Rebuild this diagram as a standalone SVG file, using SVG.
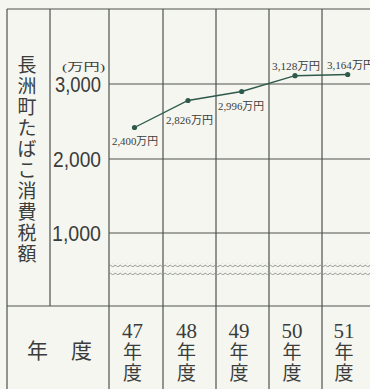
<svg xmlns="http://www.w3.org/2000/svg" width="370" height="389" viewBox="0 0 370 389">
<defs>
<style>
.grid{stroke:#4d534f;stroke-width:1.2;fill:none}
.data{stroke:#2e5a4c;stroke-width:1.4;fill:none}
.pt{fill:#2e5a4c}
.jp{font-family:"Noto Sans CJK JP",sans-serif;fill:#3a3d3b}
.ax{font-family:"Liberation Sans",sans-serif;font-size:22px;fill:#3a3d3b}
.yr{font-family:"Liberation Serif",serif;font-size:21px;fill:#3a3d3b;text-anchor:middle}
.yc{font-family:"Noto Sans CJK JP",sans-serif;font-size:19px;fill:#3a3d3b;text-anchor:middle}
.lbl{font-family:"Liberation Serif","Noto Sans CJK JP",serif;font-size:11px;fill:#3a3d3b}
</style>
<pattern id="wave" width="5" height="4" patternUnits="userSpaceOnUse" x="109" y="0">
<path d="M0 2 Q1.25 0.4 2.5 2 T5 2" stroke="#858985" stroke-width="0.9" fill="none"/>
</pattern>
</defs>
<rect width="370" height="389" fill="#f6f6f1"/>
<g id="grid">
<path class="grid" d="M7 9H370M7 9V389M50 9V306M7 306H370M109 9V389M163 9V389M216 9V389M269 9V389M322 9V389M109 84H370M109 159H370M109 233H370"/>
<rect x="109" y="263" width="261" height="4" fill="url(#wave)"/>
<rect x="109" y="271" width="261" height="4" fill="url(#wave)"/>
</g>
<g id="title" class="jp" font-size="19" text-anchor="middle">
<text x="27" y="72">長</text>
<text x="27" y="93">洲</text>
<text x="27" y="114">町</text>
<text x="27" y="135">た</text>
<text x="27" y="156">ば</text>
<text x="27" y="177">こ</text>
<text x="27" y="198">消</text>
<text x="27" y="219">費</text>
<text x="27" y="240">税</text>
<text x="27" y="261">額</text>
</g>
<g id="axis">
<text x="62" y="70.5" class="lbl" font-size="10" textLength="43" lengthAdjust="spacingAndGlyphs">(万円)</text>
<text x="55" y="92" class="ax" textLength="46" lengthAdjust="spacingAndGlyphs">3,000</text>
<text x="53" y="167" class="ax" textLength="48" lengthAdjust="spacingAndGlyphs">2,000</text>
<text x="52" y="241" class="ax" textLength="49" lengthAdjust="spacingAndGlyphs">1,000</text>
</g>
<g id="connectors">
<polyline class="data" points="134.5,127.5 188,100.5 241.7,91.5 295,75.7 347.7,74.5"/>
</g>
<g id="points">
<circle class="pt" cx="134.5" cy="127.5" r="2.6"/>
<circle class="pt" cx="188" cy="100.5" r="2.6"/>
<circle class="pt" cx="241.7" cy="91.5" r="2.6"/>
<circle class="pt" cx="295" cy="75.7" r="2.6"/>
<circle class="pt" cx="347.7" cy="74.5" r="2.6"/>
</g>
<g id="labels">
<text class="lbl" x="112" y="145" textLength="46" lengthAdjust="spacingAndGlyphs">2,400万円</text>
<text class="lbl" x="166" y="124" textLength="47" lengthAdjust="spacingAndGlyphs">2,826万円</text>
<text class="lbl" x="218" y="110" textLength="46" lengthAdjust="spacingAndGlyphs">2,996万円</text>
<text class="lbl" x="272" y="70" textLength="48" lengthAdjust="spacingAndGlyphs">3,128万円</text>
<text class="lbl" x="327" y="69" textLength="47" lengthAdjust="spacingAndGlyphs">3,164万円</text>
</g>
<g id="years">
<text class="jp" font-size="21" x="37.5" y="358" text-anchor="middle">年</text>
<text class="jp" font-size="21" x="81.5" y="358" text-anchor="middle">度</text>
<g id="y47"><text class="yr" x="132.5" y="338">47</text><text class="yc" x="132.5" y="358.5">年</text><text class="yc" x="132.5" y="379.5">度</text></g>
<g id="y48"><text class="yr" x="186.5" y="338">48</text><text class="yc" x="186.5" y="358.5">年</text><text class="yc" x="186.5" y="379.5">度</text></g>
<g id="y49"><text class="yr" x="239" y="338">49</text><text class="yc" x="239" y="358.5">年</text><text class="yc" x="239" y="379.5">度</text></g>
<g id="y50"><text class="yr" x="292" y="338">50</text><text class="yc" x="292" y="358.5">年</text><text class="yc" x="292" y="379.5">度</text></g>
<g id="y51"><text class="yr" x="344" y="338">51</text><text class="yc" x="344" y="358.5">年</text><text class="yc" x="344" y="379.5">度</text></g>
</g>
</svg>
